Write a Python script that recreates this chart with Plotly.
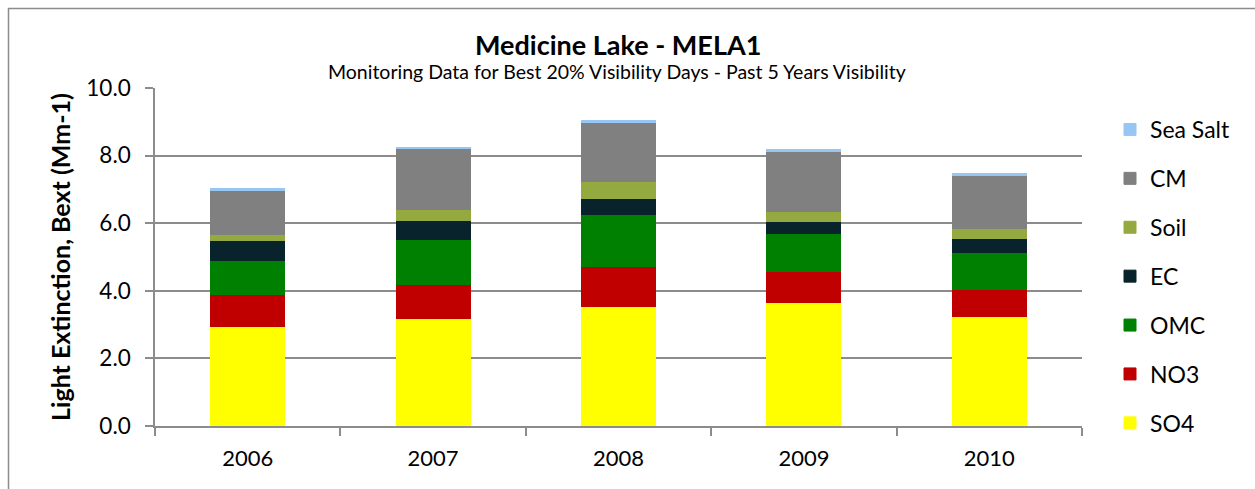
import plotly.graph_objects as go

# Categories and light-extinction components (Mm-1)
years = ["2006", "2007", "2008", "2009", "2010"]
so4 = [2.95, 3.19, 3.53, 3.65, 3.23]
no3 = [0.94, 0.99, 1.19, 0.91, 0.81]
omc = [1.02, 1.34, 1.53, 1.13, 1.08]
ec = [0.58, 0.56, 0.49, 0.36, 0.42]
soil = [0.17, 0.32, 0.48, 0.30, 0.29]
cm = [1.30, 1.81, 1.77, 1.77, 1.57]
sea_salt = [0.06, 0.03, 0.05, 0.05, 0.07]

y_ticks = [0, 2, 4, 6, 8, 10]
y_tick_labels = ["0.0", "2.0", "4.0", "6.0", "8.0", "10.0"]

# stacked bottom to top; legend lists them top to bottom
series = [
    ("SO4", so4, "#FFFF00"),
    ("NO3", no3, "#C00000"),
    ("OMC", omc, "#008000"),
    ("EC", ec, "#08232B"),
    ("Soil", soil, "#94AA40"),
    ("CM", cm, "#808080"),
    ("Sea Salt", sea_salt, "#97C6F2"),
]

FONT = "Lato"
GRID = "#8C8C8C"

fig = go.Figure()
n = len(series)
for i, (name, vals, color) in enumerate(series):
    fig.add_trace(go.Bar(
        x=years, y=vals, name=name, legendgroup=name,
        legendrank=n - i,
        marker=dict(color=color, line=dict(width=1, color=color)),
    ))

W, H = 1255, 489
L, R, T, B = 155, 173, 88, 63
pw, ph = W - L - R, H - T - B


def px_x(p):
    return (p - L) / pw


def px_y(p):
    return (H - B - p) / ph


fig.update_layout(
    width=W, height=H,
    margin=dict(l=L, r=R, t=T, b=B, autoexpand=False),
    barmode="stack",
    bargap=0.6,
    plot_bgcolor="white",
    paper_bgcolor="white",
    font=dict(family=FONT, color="#000000", size=22),
    showlegend=True,
    legend=dict(
        x=px_x(1110), xanchor="left",
        y=px_y(108), yanchor="top",
        traceorder="grouped",
        tracegroupgap=16,
        maxheight=600,
        font=dict(family=FONT, size=23),
        bgcolor="rgba(0,0,0,0)",
        itemclick=False,
    ),
    xaxis=dict(
        type="category",
        showgrid=False,
        showline=True, linecolor=GRID, linewidth=1.5,
        ticks="outside", tickson="boundaries", ticklen=8, tickwidth=1.5, tickcolor=GRID,
        ticklabelstandoff=12,
        tickfont=dict(family=FONT, size=22),
    ),
    yaxis=dict(
        range=[0, 10],
        tickvals=y_ticks, ticktext=y_tick_labels,
        showgrid=True, gridcolor=GRID, gridwidth=1.5,
        showline=True, linecolor=GRID, linewidth=1.5,
        ticks="outside", ticklen=8, tickwidth=1.5, tickcolor=GRID,
        ticklabelstandoff=10,
        zeroline=False,
        tickfont=dict(family=FONT, size=22.5),
        title=dict(
            text="<b>Light Extinction, Bext (Mm-1)</b>",
            font=dict(family=FONT, size=25),
            standoff=9,
        ),
    ),
    shapes=[
        # outer chart-area border
        dict(type="rect", xref="paper", yref="paper",
             x0=px_x(8.5), x1=px_x(W + 20), y0=px_y(8.5), y1=px_y(H + 20),
             line=dict(color="#8C8C8C", width=1.5), fillcolor="rgba(0,0,0,0)",
             layer="below"),
    ],
    annotations=[
        dict(text="<b>Medicine Lake - MELA1</b>", xref="paper", yref="paper",
             x=px_x(618), y=px_y(45), xanchor="center", yanchor="middle",
             showarrow=False, font=dict(family=FONT, size=27)),
        dict(text="Monitoring Data for Best 20% Visibility Days - Past 5 Years Visibility",
             xref="paper", yref="paper",
             x=px_x(617), y=px_y(71), xanchor="center", yanchor="middle",
             showarrow=False, font=dict(family=FONT, size=19.5)),
    ],
)

fig.write_html("out.html")
